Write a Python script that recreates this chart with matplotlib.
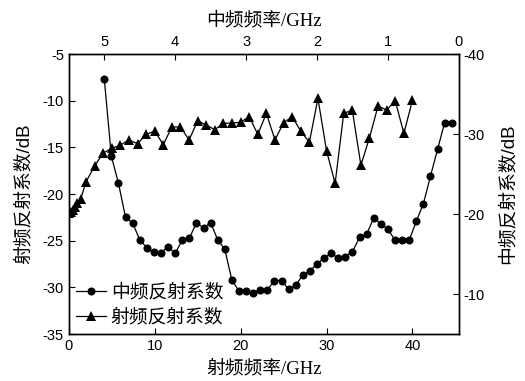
import numpy as np
import matplotlib
matplotlib.use('Agg')
import matplotlib.pyplot as plt

plt.rcParams['font.family'] = ['Liberation Sans', 'Noto Sans CJK SC']
plt.rcParams['axes.unicode_minus'] = False

# RF reflection (bottom x: RF GHz, left y: dB)
rf_freq = [0, 0.25, 0.5, 0.75, 1.0, 1.4, 2, 3, 4, 5, 6, 7, 8, 9, 10, 11, 12, 13, 14, 15,
           16, 17, 18, 19, 20, 21, 22, 23, 24, 25, 26, 27, 28, 29, 30, 31, 32,
           33, 34, 35, 36, 37, 38, 39, 40]
rf_refl = [-22.0, -21.9, -21.7, -21.4, -21.0, -20.5, -18.7, -17.0, -15.6, -15.1, -14.75,
           -14.2, -14.6, -13.6, -13.25, -14.7, -12.8, -12.8, -14.2, -12.15, -12.6,
           -13.1, -12.4, -12.4, -12.3, -11.7, -13.6, -11.35, -14.2, -12.35, -11.7,
           -13.25, -14.45, -9.75, -15.35, -18.85, -11.35, -11.0, -16.9, -13.95,
           -10.55, -11.0, -10.0, -13.5, -9.95]

# IF reflection (top x: IF GHz, right y: dB)
if_freq = [5.0, 4.9, 4.8, 4.7, 4.6, 4.5, 4.4, 4.3, 4.2, 4.1, 4.0, 3.9, 3.8, 3.7, 3.6,
           3.5, 3.4, 3.3, 3.2, 3.1, 3.0, 2.9, 2.8, 2.7, 2.6, 2.5, 2.4, 2.3, 2.2, 2.1,
           2.0, 1.9, 1.8, 1.7, 1.6, 1.5, 1.4, 1.3, 1.2, 1.1, 1.0, 0.9, 0.8, 0.7, 0.6,
           0.5, 0.4, 0.3, 0.2, 0.1]
if_refl = [-36.95, -27.25, -23.9, -19.6, -18.9, -16.8, -15.8, -15.25, -15.2, -15.9,
           -15.1, -16.75, -17.0, -18.9, -18.3, -18.9, -16.8, -15.6, -11.75, -10.4,
           -10.4, -10.2, -10.5, -10.5, -11.7, -11.7, -10.6, -11.1, -12.4, -12.9,
           -13.8, -14.5, -15.1, -14.5, -14.7, -15.3, -17.1, -17.5, -19.5, -18.8,
           -18.1, -16.75, -16.75, -16.75, -19.1, -21.3, -24.75, -28.1, -31.45, -31.45]

serif_cjk = ['Liberation Serif', 'Noto Sans CJK SC']

fig = plt.figure(figsize=(5.25, 3.81), dpi=100)
pos = [0.131, 0.123, 0.743, 0.735]
ax = fig.add_axes(pos)
ax2 = fig.add_axes(pos, facecolor='none')

l_rf, = ax.plot(rf_freq, rf_refl, color='black', lw=0.9, marker='^', ms=7,
                markeredgewidth=0, label='射频反射系数')
ax.set_xlim(0, 45.4)
ax.set_ylim(-35, -5)
ax.set_xticks([0, 10, 20, 30, 40])
ax.set_yticks([-35, -30, -25, -20, -15, -10, -5])
ax.tick_params(direction='in', length=4, width=0.8, labelsize=10.5,
               top=False, right=False)
ax.set_xlabel('射频频率/GHz', fontsize=13.5, family=serif_cjk, labelpad=5)
ax.set_ylabel('射频反射系数/dB', fontsize=13.5, labelpad=7)

l_if, = ax2.plot(if_freq, if_refl, color='black', lw=0.9, marker='o', ms=5.8,
                 markeredgewidth=0, label='中频反射系数')
ax2.set_xlim(5.5, 0)
ax2.set_ylim(-5, -40)
ax2.set_xticks([5, 4, 3, 2, 1, 0])
ax2.set_yticks([-40, -30, -20, -10])
ax2.xaxis.set_ticks_position('top')
ax2.xaxis.set_label_position('top')
ax2.yaxis.set_ticks_position('right')
ax2.yaxis.set_label_position('right')
ax2.tick_params(direction='in', length=4, width=0.8, labelsize=10.5)
ax2.set_xlabel('中频频率/GHz', fontsize=13.5, family=serif_cjk, labelpad=7)
ax2.set_ylabel('中频反射系数/dB', fontsize=13.5, labelpad=10)

for a in (ax, ax2):
    for s in a.spines.values():
        s.set_linewidth(1.0)

ax2.legend(handles=[l_if, l_rf], loc='lower left', bbox_to_anchor=(-0.01, -0.015),
           frameon=False, handlelength=1.6, handletextpad=0.25,
           labelspacing=0.2, borderaxespad=0.2,
           prop={'family': ['Noto Sans CJK SC'], 'size': 13.5})

fig.savefig('out.png', dpi=100)
